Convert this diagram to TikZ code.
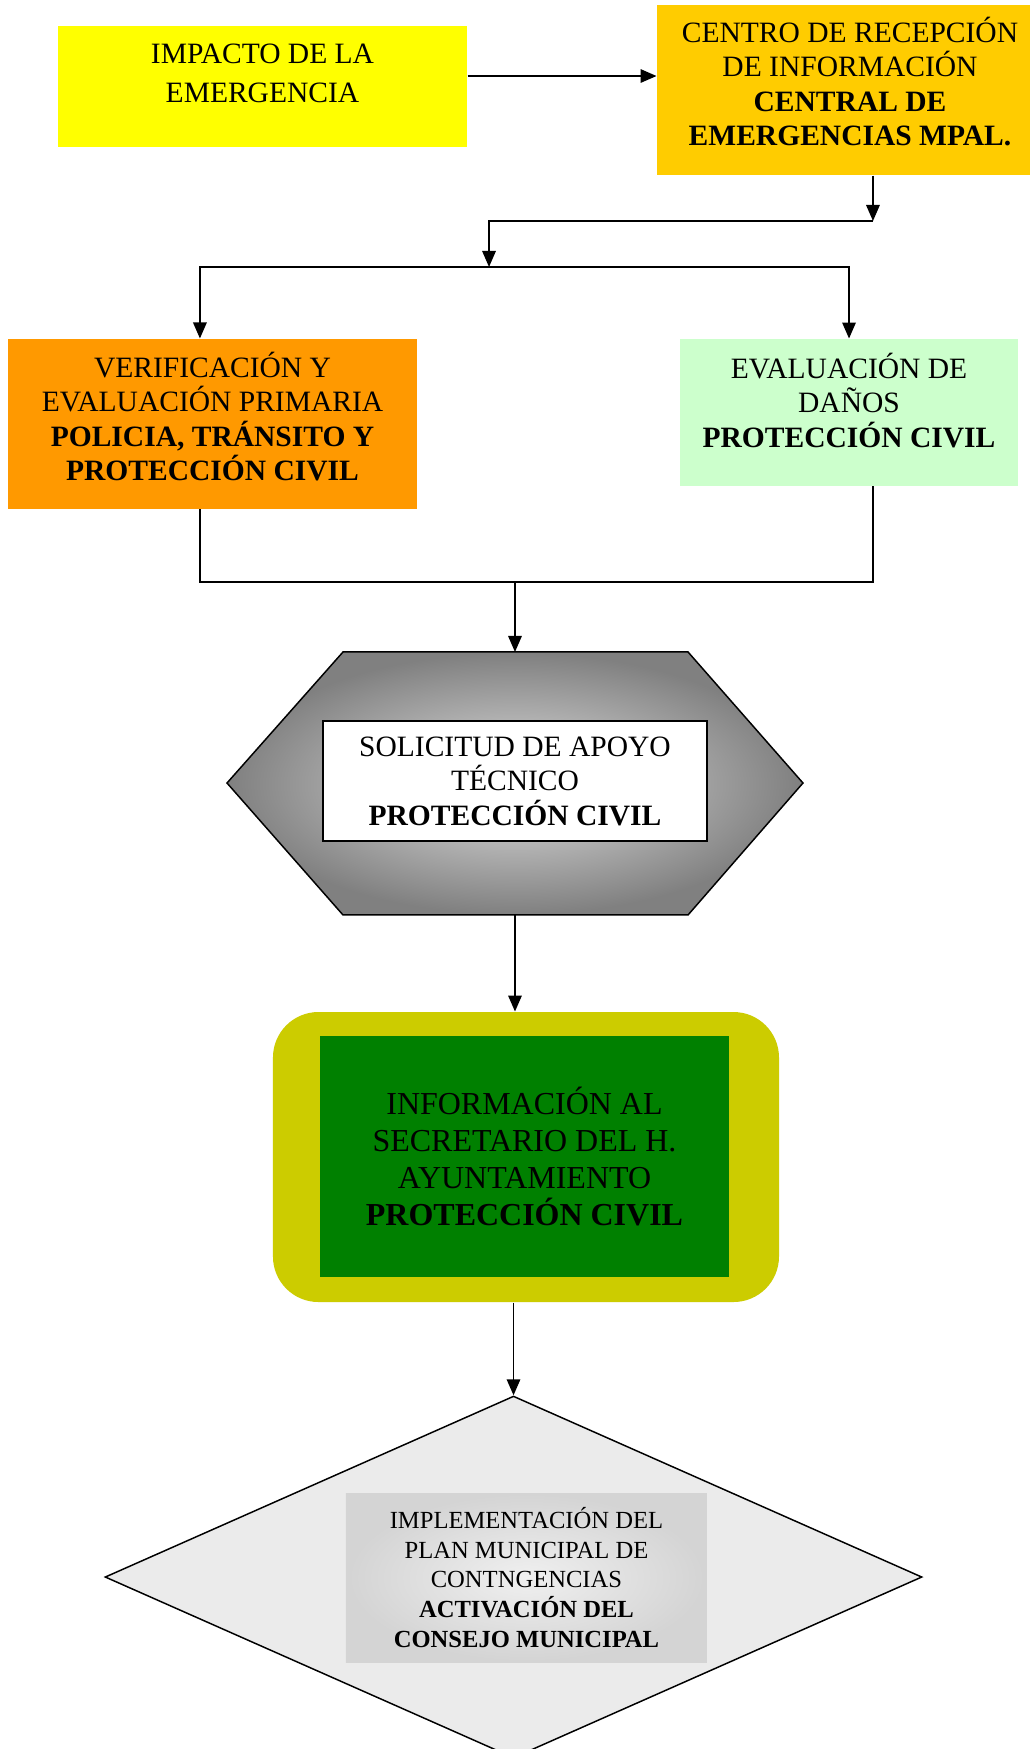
\documentclass[tikz,border=0pt]{standalone}
\usepackage{fontspec}
\setmainfont{Liberation Serif}
\usetikzlibrary{arrows.meta,shapes.geometric}

\begin{document}
\begin{tikzpicture}[
    caja/.style={rectangle, align=center, inner sep=0pt, font=\fontsize{12}{14}\selectfont},
    flecha/.style={-{Triangle[length=6.5pt,width=5.5pt]}, line width=0.6pt},
    linea/.style={line width=0.6pt}
  ]

    % Colors for the boxes
    \definecolor{amarillo}{RGB}{255,255,0}
    \definecolor{oro}{RGB}{255,204,0}
    \definecolor{naranja}{RGB}{255,153,0}
    \definecolor{verdeclaro}{RGB}{204,255,204}
    \definecolor{olivo}{RGB}{204,204,0}
    \definecolor{verde}{RGB}{0,128,0}

    \path[fill=white, use as bounding box] (0,0) rectangle (14.714,-24.986);

    % Impacto
    \node[caja, fill=amarillo, minimum width=5.843cm, minimum height=1.729cm, text depth=0.39cm] (impacto) at (3.75,-1.236) {IMPACTO DE LA\\[1.8pt]EMERGENCIA};

    % Centro de recepcion
    \node[caja, fill=oro, minimum width=5.514cm, minimum height=2.429cm, text depth=0.25cm] (centro) at (12.143,-1.286) {CENTRO DE RECEPCIÓN\\DE INFORMACIÓN\\\textbf{CENTRAL DE}\\\textbf{EMERGENCIAS MPAL.}};

    % Verificacion
    \node[caja, fill=naranja, minimum width=5.843cm, minimum height=2.429cm, text depth=0.22cm] (verif) at (3.036,-6.057) {VERIFICACIÓN Y\\EVALUACIÓN PRIMARIA\\\textbf{POLICIA, TRÁNSITO Y}\\\textbf{PROTECCIÓN CIVIL}};

    % Evaluacion de danos
    \node[caja, fill=verdeclaro, minimum width=4.829cm, minimum height=2.1cm, text depth=0.36cm] (danos) at (12.129,-5.893) {EVALUACIÓN DE\\DAÑOS\\\textbf{PROTECCIÓN CIVIL}};

    % Hexagono
    \coordinate (hexN) at (7.357,-9.314);
    \coordinate (hexS) at (7.357,-13.071);
    \path[draw, line width=0.6pt, shade, inner color=black!12, outer color=black!50]
        (4.9,-9.314) -- (9.829,-9.314) -- (11.471,-11.186) -- (9.829,-13.071)
        -- (4.9,-13.071) -- (3.243,-11.186) -- cycle;
    \node[caja, fill=white, draw, line width=0.6pt, text depth=-3.2pt, minimum width=5.486cm, minimum height=1.714cm] (solicitud) at (7.357,-11.157) {SOLICITUD DE APOYO\\TÉCNICO\\\textbf{PROTECCIÓN CIVIL}};

    % Informacion al secretario
    \node[fill=olivo, rounded corners=0.65cm, minimum width=7.229cm, minimum height=4.143cm] (marco) at (7.514,-16.529) {};
    \node[caja, fill=verde, font=\fontsize{13}{15}\selectfont, minimum width=5.843cm, minimum height=3.443cm] (info) at (7.493,-16.521) {INFORMACIÓN AL\\SECRETARIO DEL H.\\AYUNTAMIENTO\\\textbf{PROTECCIÓN CIVIL}};

    % Implementacion del plan
    \node[diamond, draw, line width=0.6pt, fill=black!8, inner sep=0pt, minimum width=11.671cm, minimum height=5.171cm] (rombo) at (7.336,-22.529) {};
    \node[caja, shade, inner color=black!6, outer color=black!17, font=\fontsize{10}{12}\selectfont, minimum width=5.157cm, minimum height=2.414cm] (plan) at (7.521,-22.536) {IMPLEMENTACIÓN DEL\\PLAN MUNICIPAL DE\\CONTNGENCIAS\\\textbf{ACTIVACIÓN DEL}\\\textbf{CONSEJO MUNICIPAL}};

    % Conectores
    \coordinate (j1) at (12.471,-3.157);
    \coordinate (j2) at (6.986,-3.814);
    \coordinate (j3) at (7.357,-8.314);

    \draw[flecha] ([yshift=0.15cm]impacto.east) -- ([yshift=0.15cm]impacto.east -| centro.west);
    \draw[flecha] (j1 |- centro.south) -- (j1);
    \draw[flecha] (j1) -| (j2);
    \draw[flecha] (j2) -| ([xshift=-0.18cm]verif.north);
    \draw[flecha] (j2) -| (danos.north);
    \draw[linea] ([xshift=-0.18cm]verif.south) |- (j3);
    \draw[linea] ([xshift=0.34cm]danos.south) |- (j3);
    \draw[flecha] (j3) -- (hexN);
    \draw[flecha] (hexS) -- (hexS |- marco.north);
    \draw[flecha] (rombo.north |- marco.south) -- (rombo.north);

\end{tikzpicture}
\end{document}
